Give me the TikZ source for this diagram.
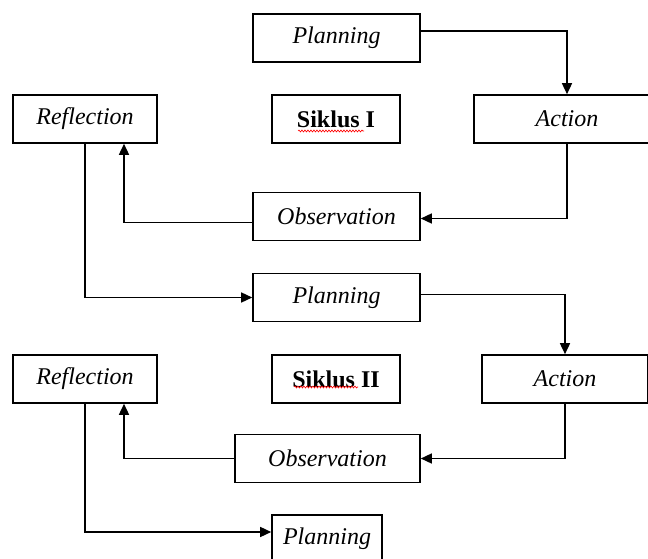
\documentclass[tikz,border=0pt]{standalone}
\usepackage{fontspec}
\setmainfont{Liberation Serif}
\usetikzlibrary{arrows.meta,decorations.pathmorphing}

\begin{document}
\begin{tikzpicture}[x=1pt,y=-1pt,
    stagebox/.style={draw,line width=1.6pt,minimum height=48pt,inner sep=0pt,
        font=\fontsize{24}{28}\selectfont\itshape},
    cyclebox/.style={stagebox,font=\fontsize{24}{28}\selectfont\bfseries},
    flow/.style={line width=1.5pt,-{Triangle[length=11pt,width=10pt]}},
    spell/.style={red,line width=0.6pt,decorate,decoration={snake,amplitude=1pt,segment length=3pt}}]
    \useasboundingbox (0, 0) rectangle (648, 559);
    \clip (0, 0) rectangle (648, 559);

    \node[stagebox,minimum width=167pt] (plan1) at (336.5, 38) {Planning};
    \node[stagebox,minimum width=144pt] (refl1) at (85, 119) {Reflection};
    \node[cyclebox,minimum width=128pt] (siklus1) at (336, 119) {Siklus I};
    \node[stagebox,minimum width=186pt] (act1) at (567, 119) {Action};
    \node[stagebox,minimum width=167pt] (obs1) at (336.5, 216.5) {Observation};

    \node[stagebox,minimum width=167pt] (plan2) at (336.5, 297.5) {Planning};
    \node[stagebox,minimum width=144pt] (refl2) at (85, 379) {Reflection};
    \node[cyclebox,minimum width=128pt] (siklus2) at (336, 379) {Siklus II};
    \node[stagebox,minimum width=166pt] (act2) at (565, 379) {Action};
    \node[stagebox,minimum width=185pt] (obs2) at (327.5, 458.5) {Observation};
    \node[stagebox,minimum width=110pt] (plan3) at (327, 539) {Planning};

    \draw[spell] (298, 131) -- (364, 131);
    \draw[spell] (294, 387) -- (358, 387);

    \draw[flow] ([yshift=7pt]plan1.east) -| (act1.north);
    \draw[flow] (act1.south) |- ([yshift=-2pt]obs1.east);
    \draw[flow] ([yshift=-6pt]obs1.west) -| ([xshift=39pt]refl1.south);
    \draw[flow] (refl1.south) |- (plan2.west);

    \draw[flow] ([yshift=3pt]plan2.east) -| (act2.north);
    \draw[flow] (act2.south) |- (obs2.east);
    \draw[flow] (obs2.west) -| ([xshift=39pt]refl2.south);
    \draw[flow] (refl2.south) |- ([yshift=7pt]plan3.west);
\end{tikzpicture}
\end{document}
